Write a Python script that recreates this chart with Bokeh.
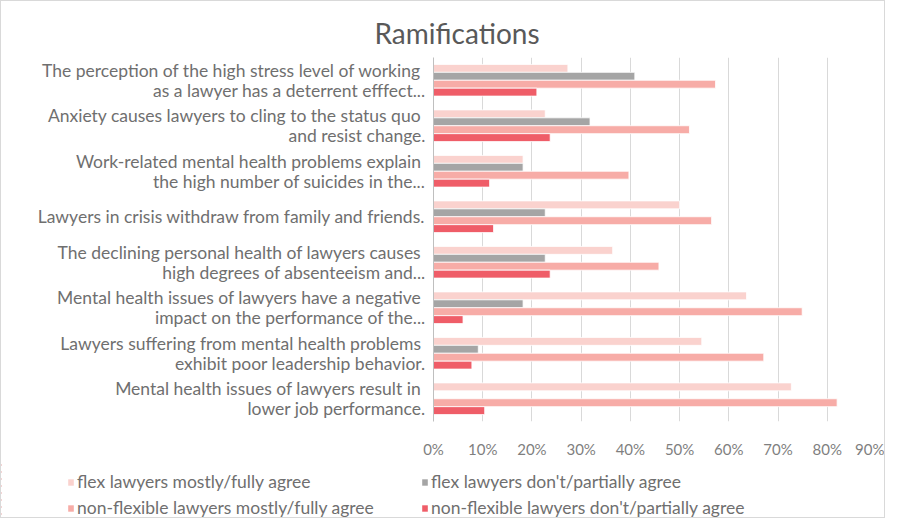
from bokeh.plotting import figure
from bokeh.layouts import column
from bokeh.models import FactorRange, ColumnDataSource, NumeralTickFormatter, SingleIntervalTicker, Legend, LegendItem, Range1d
from bokeh.transform import dodge
from bokeh.embed import file_html
from bokeh.resources import INLINE

categories = [
    "The perception of the high stress level of working \nas a lawyer has a deterrent efffect...",
    "Anxiety causes lawyers to cling to the status quo \nand resist change.",
    "Work-related mental health problems explain \nthe high number of suicides in the...",
    "Lawyers in crisis withdraw from family and friends.",
    "The declining personal health of lawyers causes \nhigh degrees of absenteeism and...",
    "Mental health issues of lawyers have a negative \nimpact on the performance of the...",
    "Lawyers suffering from mental health problems \nexhibit poor leadership behavior.",
    "Mental health issues of lawyers result in \nlower job performance.",
]
flex_agree = [0.273, 0.227, 0.182, 0.500, 0.364, 0.636, 0.545, 0.727]
flex_disagree = [0.409, 0.318, 0.182, 0.227, 0.227, 0.182, 0.091, 0.0]
nonflex_agree = [0.573, 0.520, 0.397, 0.565, 0.458, 0.749, 0.671, 0.820]
nonflex_disagree = [0.210, 0.237, 0.114, 0.122, 0.237, 0.060, 0.078, 0.104]
series_names = [
    "flex lawyers mostly/fully agree",
    "flex lawyers don't/partially agree",
    "non-flexible lawyers mostly/fully agree",
    "non-flexible lawyers don't/partially agree",
]
colors = ["#FAD2CE", "#A5A5A5", "#F7ACA7", "#EF5D68"]

src = ColumnDataSource(dict(cat=categories, a=flex_agree, b=flex_disagree,
                            c=nonflex_agree, d=nonflex_disagree))

FONT = "Lato"
W = 883
p = figure(width=W, height=460, output_backend="svg", toolbar_location=None,
           y_range=FactorRange(factors=list(reversed(categories)), range_padding=0),
           x_range=Range1d(0, 0.9),
           min_border_left=432, min_border_right=8, min_border_top=56, min_border_bottom=40)

bh = 0.174
offs = [1.5 * bh, 0.5 * bh, -0.5 * bh, -1.5 * bh]
fields = ["a", "b", "c", "d"]
for f, o, c in zip(fields, offs, colors):
    p.hbar(y=dodge("cat", o, range=p.y_range), right=f, left=0, height=bh, source=src,
           fill_color=c, line_color="white", line_width=0.8)

p.title.text = "Ramifications"
p.title.text_font = FONT
p.title.text_font_size = "28px"
p.title.text_font_style = "normal"
p.title.text_color = "#595959"
p.title.align = "left"
p.title.vertical_align = "top"
p.title.offset = -59
p.title.standoff = 12

p.outline_line_color = None
p.ygrid.grid_line_color = None
p.xgrid.grid_line_color = "#d9d9d9"
p.xgrid.grid_line_width = 1
p.xaxis.ticker = SingleIntervalTicker(interval=0.1)
p.xaxis.formatter = NumeralTickFormatter(format="0%")
p.xaxis.axis_line_color = None
p.xaxis.major_tick_line_color = None
p.xaxis.minor_tick_line_color = None
p.xaxis.major_label_text_font = FONT
p.xaxis.major_label_text_font_size = "15px"
p.xaxis.major_label_text_color = "#7f7f7f"
p.xaxis.major_label_standoff = 12

p.yaxis.axis_line_color = "#bfbfbf"
p.yaxis.major_tick_line_color = None
p.yaxis.major_label_text_font = FONT
p.yaxis.major_label_text_font_size = "17.5px"
p.yaxis.major_label_text_line_height = 0.95
p.yaxis.major_label_text_color = "#6f6f6f"
p.yaxis.major_label_standoff = 2

# legend strip (same data, drawn outside this strip's visible x range)
p2 = figure(width=W, height=56, output_backend="svg", toolbar_location=None,
            x_range=Range1d(5, 6), y_range=FactorRange(factors=list(reversed(categories))),
            min_border_left=0, min_border_right=0, min_border_top=0, min_border_bottom=0)
p2.frame_align = False
p2.axis.visible = False
p2.grid.grid_line_color = None
p2.outline_line_color = None
legend_rends = [p2.hbar(y="cat", right=f, left=0, height=bh, source=src,
                        fill_color=c, line_color=None) for f, c in zip(fields, colors)]
items = [LegendItem(label=n, renderers=[r]) for n, r in zip(series_names, legend_rends)]
leg = Legend(items=items, location=(66, -1), orientation="horizontal", ncols=2,
             label_text_font=FONT, label_text_font_size="17.5px", label_text_color="#6f6f6f",
             glyph_width=7, glyph_height=8, label_width=339, spacing=5, label_standoff=3,
             label_height=19,
             border_line_color=None, background_fill_alpha=0, padding=0, margin=0)
p2.add_layout(leg, "center")

layout = column(p, p2, spacing=0, styles={"border": "1px solid #d9d9d9"})
open("out.html", "w").write(file_html(layout, INLINE))
